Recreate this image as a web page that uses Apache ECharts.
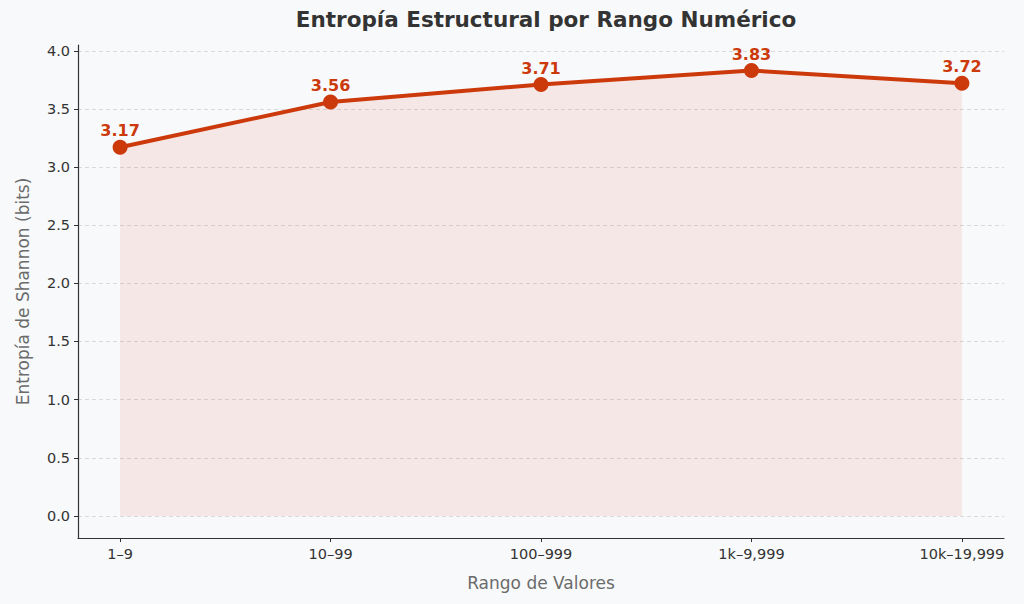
<!DOCTYPE html>
<html>
<head>
<meta charset="utf-8">
<script src="https://cdn.jsdelivr.net/npm/echarts@6/dist/echarts.min.js"></script>
<style>
  html, body { margin: 0; padding: 0; background: #f8f9fa; }
  #chart { width: 1024px; height: 604px; }
</style>
</head>
<body>
<div id="chart"></div>
<script>
var categories = ['1–9', '10–99', '100–999', '1k–9,999', '10k–19,999'];
var entropy = [3.17, 3.56, 3.71, 3.83, 3.72];
var yTicks = [0, 0.5, 1, 1.5, 2, 2.5, 3, 3.5, 4];

(function() {
  var chartEl = document.getElementById('chart');
  var lineColor = '#cc3a0c';
  var ink = '#333333';
  var muted = '#6b6b6b';
  var font = 'DejaVu Sans';

  var xTicks = categories.map(function(c, i) { return i; });
  var points = entropy.map(function(v, i) { return [i, v]; });

  var chart = echarts.init(chartEl, null, { renderer: 'svg' });
  chart.setOption({
    animation: false,
    backgroundColor: '#f8f9fa',
    textStyle: { fontFamily: font },
    title: {
      text: 'Entropía Estructural por Rango Numérico',
      left: 541,
      textAlign: 'center',
      top: 3,
      textStyle: { fontFamily: font, fontSize: 21.5, fontWeight: 'bold', color: '#333333' }
    },
    grid: { left: 78, right: 20, top: 45, bottom: 66 },
    xAxis: {
      type: 'value',
      min: -0.2,
      max: 4.2,
      name: 'Rango de Valores',
      nameLocation: 'middle',
      nameGap: 36,
      nameTextStyle: { color: muted, fontSize: 17, fontFamily: font },
      axisLine: { onZero: false, lineStyle: { color: '#333333', width: 1.2 } },
      axisTick: { customValues: xTicks, length: 4, lineStyle: { color: '#333333' } },
      axisLabel: {
        customValues: xTicks,
        margin: 8,
        color: ink,
        fontSize: 14.5,
        fontFamily: font,
        formatter: function(v) { return categories[Math.round(v)]; }
      },
      splitLine: { show: false }
    },
    yAxis: {
      type: 'value',
      min: -0.19,
      max: 4.05,
      name: 'Entropía de Shannon (bits)',
      nameLocation: 'middle',
      nameGap: 47,
      nameTextStyle: { color: muted, fontSize: 17, fontFamily: font },
      axisLine: { show: true, onZero: false, lineStyle: { color: '#333333', width: 1.2 } },
      axisTick: { show: true, customValues: yTicks, length: 4, lineStyle: { color: '#333333' } },
      axisLabel: {
        customValues: yTicks,
        margin: 8,
        color: ink,
        fontSize: 14.5,
        fontFamily: font,
        formatter: function(v) { return v.toFixed(1); }
      },
      splitLine: { show: true, lineStyle: { color: '#d0d0d0', type: [4, 3], width: 0.8 } }
    },
    series: [
      {
        type: 'line',
        data: points,
        symbol: 'circle',
        symbolSize: 15,
        lineStyle: { color: lineColor, width: 4 },
        itemStyle: { color: lineColor },
        areaStyle: { color: 'rgba(210, 60, 20, 0.13)' },
        label: {
          show: true,
          position: 'top',
          distance: 1,
          color: lineColor,
          fontSize: 16,
          fontWeight: 'bold',
          fontFamily: font,
          formatter: function(p) { return p.value[1].toFixed(2); }
        }
      }
    ]
  });

  window.addEventListener('resize', function() {
    chart.resize();
  });
})();
</script>
</body>
</html>
